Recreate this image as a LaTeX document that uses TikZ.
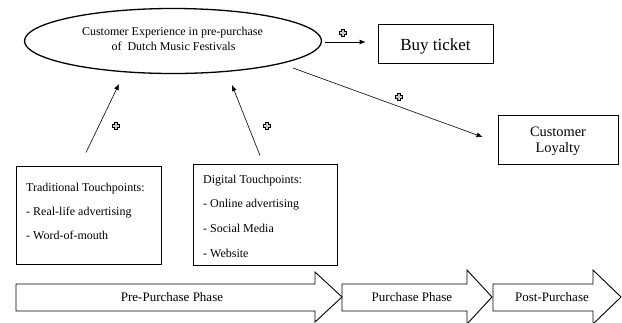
\documentclass[tikz,border=0pt]{standalone}
\usepackage{fontspec}
\setmainfont{Liberation Serif}
\usetikzlibrary{arrows.meta,calc,shapes.geometric}
\begin{document}
\begin{tikzpicture}[x=1pt,y=-1pt,
  box/.style={draw, line width=0.9pt, inner sep=0, rectangle},
  conn/.style={line width=0.6pt, -{Latex[length=6pt,width=5pt]}},
  pluscross/.pic={\draw[line width=1.4pt, fill=gray!40, line join=miter]
      (-1.3,-3.3) -- (1.3,-3.3) -- (1.3,-1.3) -- (3.3,-1.3) -- (3.3,1.3) -- (1.3,1.3) -- (1.3,3.3)
      -- (-1.3,3.3) -- (-1.3,1.3) -- (-3.3,1.3) -- (-3.3,-1.3) -- (-1.3,-1.3) -- cycle;},
  phasearrow/.style={draw, line width=0.9pt, line join=miter},
  txt/.style={inner sep=0, anchor=base west, font=\fontsize{12}{14}\selectfont},
  phasetxt/.style={inner sep=0, anchor=base, font=\fontsize{13}{15}\selectfont},
  ]
\useasboundingbox (0,0) rectangle (622,322);
% ellipse
\node[draw, ellipse, line width=1.3pt, minimum width=297pt, minimum height=65pt, inner sep=0] (ell) at (173,41) {};
\node[inner sep=0, anchor=base, font=\fontsize{12}{14}\selectfont] (ellA) at (172.5,35.7) {Customer Experience in pre-purchase};
\node[inner sep=0, anchor=base, font=\fontsize{12}{14}\selectfont] (ellB) at (173.5,50) {of\ \ Dutch Music Festivals};
% right boxes
\node[box, minimum width=115pt, minimum height=39pt] (buy) at (435.5,43.5) {};
\node[inner sep=0, anchor=base, font=\fontsize{17}{20}\selectfont] (buyT) at (435.5,50) {Buy ticket};
\node[box, minimum width=120pt, minimum height=49pt] (loy) at (558,139.5) {};
\node[inner sep=0, anchor=base, font=\fontsize{14.4}{16}\selectfont] (loyA) at (558,136.3) {Customer};
\node[inner sep=0, anchor=base, font=\fontsize{14.4}{16}\selectfont] (loyB) at (558,152.3) {Loyalty};
% touchpoint boxes
\node[box, minimum width=145pt, minimum height=98pt] (trad) at (88.5,215) {};
\node[txt] (tradA) at (26,191.5) {Traditional Touchpoints:};
\node[txt] (tradB) at (26,215) {- Real-life advertising};
\node[txt] (tradC) at (26,239) {- Word-of-mouth};
\node[box, minimum width=144pt, minimum height=101pt] (dig) at (265,214.5) {};
\node[txt] (digA) at (203,183) {Digital Touchpoints:};
\node[txt] (digB) at (203,207.5) {- Online advertising};
\node[txt] (digC) at (203,232.5) {- Social Media};
\node[txt] (digD) at (203,257) {- Website};
% connectors
\draw[conn] ([shift={(3,1)}]ell.east) -- ([shift={(-12,-1.5)}]buy.west);
\draw[conn] ([shift={(120,27)}]ell.center) -- ([shift={(-15,-2.5)}]loy.west);
\draw[conn] ([shift={(-2.5,-13)}]trad.north) -- ([shift={(-54,43)}]ell.center);
\draw[conn] ([shift={(-5,-8)}]dig.north) -- ([shift={(59,44)}]ell.center);
% plus signs
\pic at (343,33) {pluscross};
\pic at (399,97) {pluscross};
\pic at (116,126) {pluscross};
\pic at (267,126) {pluscross};
% phase arrows
\draw[phasearrow] (16,284) -- (315,284) -- (315,272) -- (342,297) -- (315,322) -- (315,311) -- (16,311) -- cycle;
\node[phasetxt] (ph1) at (172,301.7) {Pre-Purchase Phase};
\draw[phasearrow] (342,284) -- (467,284) -- (467,270) -- (492,297) -- (467,324) -- (467,311) -- (342,311) -- cycle;
\node[phasetxt] (ph2) at (412,301.7) {Purchase Phase};
\draw[phasearrow] (493,284) -- (593,284) -- (593,270) -- (621,297) -- (593,324) -- (593,311) -- (493,311) -- cycle;
\node[phasetxt] (ph3) at (552,301.7) {Post-Purchase};
\end{tikzpicture}
\end{document}
